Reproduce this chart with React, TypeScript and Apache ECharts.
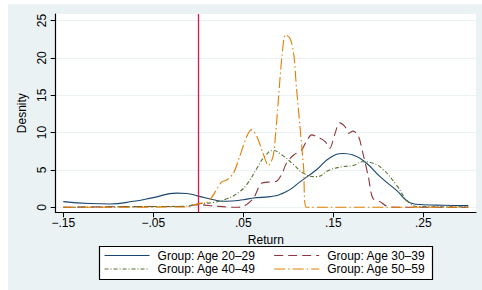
import React, { useEffect, useRef } from "react";
import * as echarts from "echarts";

const seriesNames = [
  "Group: Age 20–29",
  "Group: Age 30–39",
  "Group: Age 40–49",
  "Group: Age 50–59",
];

const age2029: number[][] = [
  [-0.15, 0.76], [-0.12, 0.5], [-0.098, 0.45], [-0.072, 0.8], [-0.05, 1.3],
  [-0.024, 1.9], [-0.013, 1.85], [0, 1.5], [0.017, 1.0], [0.031, 0.8],
  [0.05, 1.0], [0.061, 1.25], [0.08, 1.43], [0.098, 2.1], [0.113, 3.4],
  [0.131, 5.0], [0.146, 6.6], [0.161, 7.2], [0.172, 7.0], [0.187, 5.9],
  [0.202, 4.1], [0.22, 2.3], [0.237, 0.55], [0.25, 0.35], [0.272, 0.27],
  [0.3, 0.22],
];

const age3039: number[][] = [
  [-0.15, 0], [-0.054, 0.1], [-0.017, 0.1], [0, 0.35], [0.017, 0.18],
  [0.039, 0], [0.048, 0.05], [0.061, 1.15], [0.07, 3.2], [0.08, 3.4],
  [0.087, 3.5], [0.093, 4.5], [0.098, 5.9], [0.106, 7.0], [0.115, 7.7],
  [0.12, 8.8], [0.126, 9.7], [0.131, 9.5], [0.141, 8.8], [0.146, 7.9],
  [0.152, 9.9], [0.157, 11.3], [0.163, 10.8], [0.167, 9.9], [0.172, 10.2],
  [0.178, 9.5], [0.183, 7.2], [0.189, 4.1], [0.194, 1.2], [0.202, 0.76],
  [0.209, 0.18], [0.22, 0], [0.3, 0],
];

const age4049: number[][] = [
  [-0.15, 0], [-0.054, 0.1], [-0.017, 0.13], [0, 0.45], [0.017, 0.65],
  [0.031, 1.1], [0.046, 2.1], [0.056, 3.4], [0.065, 5.2], [0.074, 6.8],
  [0.083, 7.6], [0.093, 7.0], [0.106, 5.7], [0.117, 4.55], [0.131, 4.1],
  [0.146, 5.0], [0.161, 5.45], [0.172, 5.6], [0.183, 6.1], [0.194, 5.9],
  [0.206, 5.0], [0.22, 3.0], [0.235, 0.54], [0.246, 0.1], [0.3, 0.05],
];

const age5059: number[][] = [
  [-0.15, 0], [-0.013, 0.05], [0, 0.5], [0.011, 0.76], [0.019, 2.1],
  [0.026, 3.4], [0.031, 3.6], [0.039, 4.55], [0.046, 6.8], [0.054, 9.5],
  [0.059, 10.4], [0.065, 9.5], [0.072, 7.2], [0.078, 5.6], [0.083, 6.8],
  [0.086, 9.9], [0.089, 14.4], [0.093, 20.2], [0.097, 23.1], [0.102, 22.6],
  [0.106, 20.6], [0.109, 16.2], [0.113, 10.8], [0.117, 5.4], [0.12, 0],
  [0.3, 0],
];

const xTickValues = [-0.15, -0.05, 0.05, 0.15, 0.25];
const xTickLabels = ["−.15", "−.05", ".05", ".15", ".25"];
const yTickValues = [0, 5, 10, 15, 20, 25];
const yTickLabels = ["0", "5", "10", "15", "20", "25"];
const referenceLineX = 0;

const colors = ["#1a476f", "#90353b", "#55752f", "#e37e00"];
const dashes: any[] = ["solid", [9, 5], [4, 2, 1, 2], [11, 3, 1.5, 3]];
const seriesData = [age2029, age3039, age4049, age5059];

const FONT = "'Liberation Sans', Arial, Helvetica, sans-serif";

export default function App() {
  const ref = useRef<HTMLDivElement>(null);
  useEffect(() => {
    if (!ref.current) return;
    const chart = echarts.init(ref.current, null, { renderer: "svg" });
    const series: any[] = seriesData.map((d, i) => ({
      name: seriesNames[i],
      type: "line",
      data: d,
      symbol: "none",
      smooth: i === 0 || i === 2 ? 0.5 : 0.3,
      lineStyle: { color: colors[i], width: 1.1, type: dashes[i] },
      itemStyle: { color: colors[i] },
      z: 2 + i,
    }));
    series.push({
      type: "line",
      data: [],
      silent: true,
      z: 10,
      markLine: {
        silent: true,
        symbol: "none",
        label: { show: false },
        lineStyle: { color: "#d7194b", width: 1.3, type: "solid" },
        data: [{ xAxis: referenceLineX }],
      },
    });
    const legendCommon = {
      orient: "horizontal",
      padding: 0,
      itemWidth: 45,
      itemHeight: 12,
      itemGap: 18,
      itemStyle: { opacity: 0 },
      lineStyle: { width: 1.1 },
      textStyle: { fontFamily: FONT, fontSize: 12, color: "#000", padding: [0, 0, 0, 3] },
    };
    chart.setOption({
      animation: false,
      backgroundColor: "#fff",
      textStyle: { fontFamily: FONT },
      graphic: [
        {
          type: "rect",
          z: -10,
          silent: true,
          shape: { x: 8, y: 4, width: 474, height: 286 },
          style: { fill: "#eaf2f3" },
        },
        {
          type: "rect",
          z: 1,
          silent: true,
          shape: { x: 99.5, y: 246.5, width: 333, height: 33 },
          style: { fill: "#fff", stroke: "#000", lineWidth: 1.2 },
        },
      ],
      legend: [
        { ...legendCommon, left: 104, top: 249.5, data: [seriesNames[0], seriesNames[1]], z: 5 },
        { ...legendCommon, left: 104, top: 263, data: [seriesNames[2], seriesNames[3]], z: 5 },
      ],
      grid: {
        left: 55.7,
        right: 6,
        top: 14,
        bottom: 77.7,
        show: true,
        backgroundColor: "#fff",
        borderWidth: 0,
      },
      xAxis: {
        type: "value",
        min: -0.1584,
        max: 0.3086,
        name: "Return",
        nameLocation: "middle",
        nameGap: 15,
        nameTextStyle: { fontFamily: FONT, fontSize: 12, color: "#000" },
        axisLine: { show: true, onZero: false, lineStyle: { color: "#000", width: 1.2 } },
        axisTick: { show: true, length: 5, customValues: xTickValues, lineStyle: { color: "#000" } },
        axisLabel: {
          customValues: xTickValues,
          margin: 5,
          fontFamily: FONT,
          fontSize: 12,
          color: "#000",
          formatter: (v: number) => {
            const idx = xTickValues.findIndex((t) => Math.abs(t - v) < 1e-9);
            return idx >= 0 ? xTickLabels[idx] : "";
          },
        },
        splitLine: { show: false },
      },
      yAxis: {
        type: "value",
        min: -0.67,
        max: 25.88,
        name: "Desnity",
        nameLocation: "middle",
        nameRotate: 90,
        nameGap: 23,
        nameTextStyle: { fontFamily: FONT, fontSize: 12, color: "#000" },
        axisLine: { show: true, onZero: false, lineStyle: { color: "#000", width: 1.2 } },
        axisTick: { show: true, length: 5, customValues: yTickValues, lineStyle: { color: "#000" } },
        axisLabel: {
          customValues: yTickValues,
          rotate: 90,
          margin: 8,
          fontFamily: FONT,
          fontSize: 12,
          color: "#000",
          formatter: (v: number) => {
            const idx = yTickValues.findIndex((t) => Math.abs(t - v) < 1e-9);
            return idx >= 0 ? yTickLabels[idx] : "";
          },
        },
        splitLine: { show: true, lineStyle: { color: "#eaf2f3", width: 1 } },
      },
      series,
    });
    return () => chart.dispose();
  }, []);
  return (
    <div
      ref={ref}
      style={{ position: "fixed", left: 0, top: 0, width: 482, height: 290 }}
    />
  );
}
